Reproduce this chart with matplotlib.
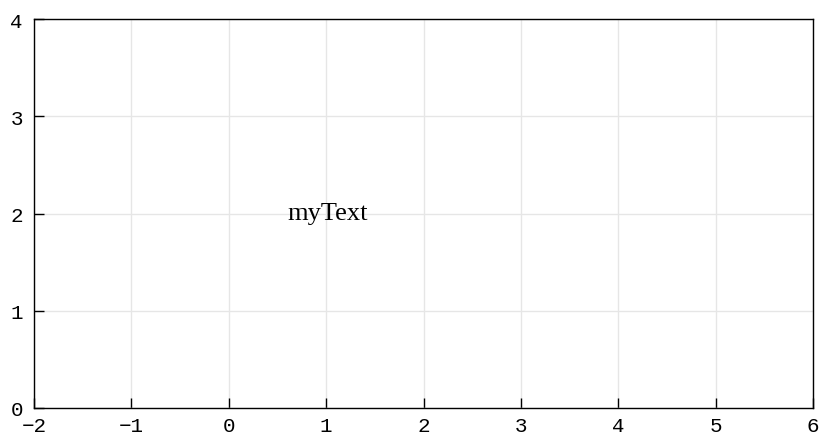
import matplotlib
matplotlib.use("Agg")
import matplotlib.pyplot as plt

# limites y ticks de los ejes
x_ticks = [-2, -1, 0, 1, 2, 3, 4, 5, 6]
y_ticks = [0, 1, 2, 3, 4]
texto = "myText"
texto_x = 0.6
texto_y = 2

fig = plt.figure(figsize=(8.22, 4.39), dpi=100)
ax = fig.add_axes([34/822, 30/439, (813-34)/822, (409-20)/439])

ax.set_xlim(x_ticks[0], x_ticks[-1])
ax.set_ylim(y_ticks[0], y_ticks[-1])
ax.set_xticks(x_ticks)
ax.set_yticks(y_ticks)
ax.set_xticklabels([str(v).replace("-", "\u2212") for v in x_ticks], family="Liberation Mono", fontsize=15)
ax.set_yticklabels([str(v) for v in y_ticks], family="Liberation Mono", fontsize=15)
ax.tick_params(direction="in", length=7, width=1, color="black")
ax.tick_params(axis="x", pad=6)
ax.tick_params(axis="y", pad=8)
ax.grid(True, color="#e6e6e6", linewidth=1)
ax.set_axisbelow(True)
for s in ax.spines.values():
    s.set_linewidth(1)

ax.text(texto_x, texto_y, texto, family="Liberation Serif", fontsize=19,
        va="center", ha="left")

fig.savefig("out.png", dpi=100)
